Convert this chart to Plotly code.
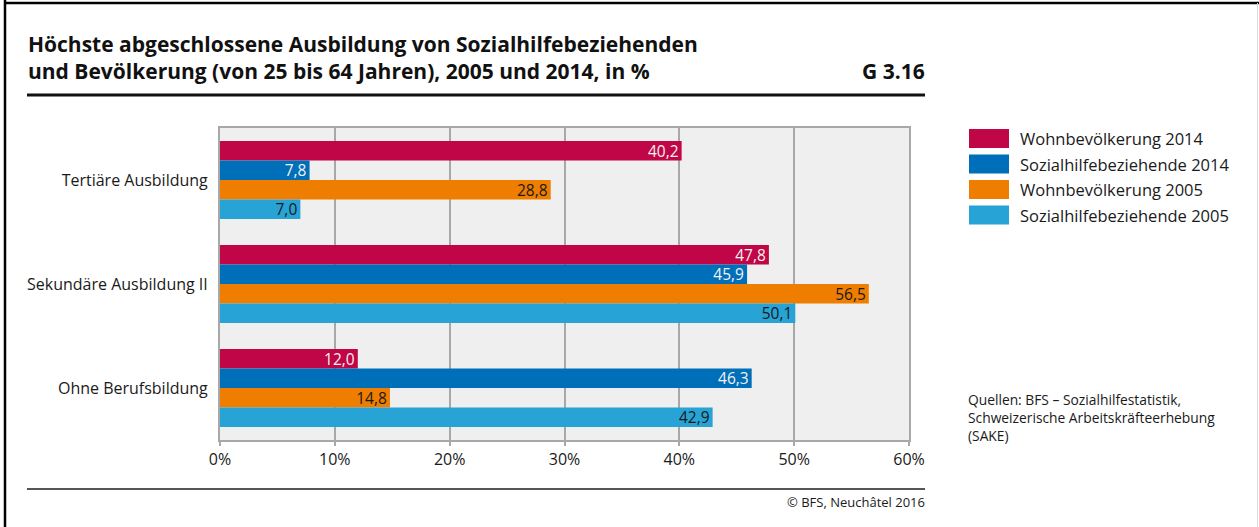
import plotly.graph_objects as go

categories = ["Tertiäre Ausbildung", "Sekundäre Ausbildung II", "Ohne Berufsbildung"]
series_names = ["Wohnbevölkerung 2014", "Sozialhilfebeziehende 2014",
                "Wohnbevölkerung 2005", "Sozialhilfebeziehende 2005"]
wohn_2014 = [40.2, 47.8, 12.0]
sozial_2014 = [7.8, 45.9, 46.3]
wohn_2005 = [28.8, 56.5, 14.8]
sozial_2005 = [7.0, 50.1, 42.9]
series_values = [wohn_2014, sozial_2014, wohn_2005, sozial_2005]
colors = ["#c00646", "#006fb9", "#ef7d00", "#27a3d6"]
text_colors = ["#f2f2f2", "#f2f2f2", "#1a1a1a", "#1a1a1a"]
tick_vals = [0, 10, 20, 30, 40, 50, 60]
tick_labels = ["0%", "10%", "20%", "30%", "40%", "50%", "60%"]

FONT = "Open Sans"
W, H = 1259, 527
L, R, T, B = 220, 909, 128, 440  # plot area in px


def px(x):
    return (x - L) / (R - L)


def py(y):
    return (B - y) / (B - T)


fig = go.Figure()
for name, vals, col, tcol in zip(series_names, series_values, colors, text_colors):
    fig.add_trace(go.Bar(
        y=categories, x=vals, name=name, orientation="h",
        marker=dict(color=col, line=dict(width=0)),
        text=[f"{v:.1f}".replace(".", ",") for v in vals],
        textposition="inside", insidetextanchor="end", textangle=0,
        constraintext="none",
        textfont=dict(family=FONT, size=15.5, color=tcol),
        showlegend=False,
    ))

shapes = []
annotations = []

# page borders
shapes.append(dict(type="line", xref="paper", yref="paper", x0=px(5), x1=px(5), y0=py(0), y1=py(527),
                   line=dict(color="black", width=2.5)))
shapes.append(dict(type="line", xref="paper", yref="paper", x0=px(4), x1=px(1259), y0=py(3), y1=py(3),
                   line=dict(color="black", width=2.5)))
shapes.append(dict(type="line", xref="paper", yref="paper", x0=px(1257.5), x1=px(1257.5), y0=py(3), y1=py(527),
                   line=dict(color="#d9d9d9", width=1)))
# rule under title
shapes.append(dict(type="line", xref="paper", yref="paper", x0=px(27), x1=px(925), y0=py(95), y1=py(95),
                   line=dict(color="#111111", width=3)))
# bottom rule
shapes.append(dict(type="line", xref="paper", yref="paper", x0=px(27), x1=px(925), y0=py(489), y1=py(489),
                   line=dict(color="#555555", width=2)))

# title
TITLE_SIZE = 21
annotations.append(dict(xref="paper", yref="paper", x=px(26), y=py(44), xanchor="left", yanchor="middle",
                        text="<b>Höchste abgeschlossene Ausbildung von Sozialhilfebeziehenden</b>",
                        showarrow=False, font=dict(family=FONT, size=TITLE_SIZE, color="#111111")))
annotations.append(dict(xref="paper", yref="paper", x=px(26), y=py(71), xanchor="left", yanchor="middle",
                        text="<b>und Bevölkerung (von 25 bis 64 Jahren), 2005 und 2014, in %</b>",
                        showarrow=False, font=dict(family=FONT, size=TITLE_SIZE, color="#111111")))
annotations.append(dict(xref="paper", yref="paper", x=px(927), y=py(71), xanchor="right", yanchor="middle",
                        text="<b>G 3.16</b>",
                        showarrow=False, font=dict(family=FONT, size=TITLE_SIZE, color="#111111")))
annotations.append(dict(xref="paper", yref="paper", x=px(927), y=py(502), xanchor="right", yanchor="middle",
                        text="© BFS, Neuchâtel 2016",
                        showarrow=False, font=dict(family=FONT, size=13, color="#1a1a1a")))

# custom legend
for i, (name, col) in enumerate(zip(series_names, colors)):
    yc = 138.5 + i * 25.5
    shapes.append(dict(type="rect", xref="paper", yref="paper", x0=px(969), x1=px(1009),
                       y0=py(yc - 9.5), y1=py(yc + 9.5), fillcolor=col, line=dict(width=0)))
    annotations.append(dict(xref="paper", yref="paper", x=px(1018), y=py(yc), xanchor="left", yanchor="middle",
                            text=name, showarrow=False, font=dict(family=FONT, size=16.5, color="#1a1a1a")))

# sources
annotations.append(dict(xref="paper", yref="paper", x=px(966), y=py(417), xanchor="left", yanchor="middle",
                        align="left",
                        text="Quellen: BFS – Sozialhilfestatistik,<br>Schweizerische Arbeitskräfteerhebung<br>(SAKE)",
                        showarrow=False, font=dict(family=FONT, size=13.8, color="#1a1a1a")))

fig.update_layout(
    width=W, height=H,
    margin=dict(l=L, r=W - R, t=T, b=H - B, pad=0),
    paper_bgcolor="white", plot_bgcolor="#efefef",
    barmode="group", bargap=0.25, bargroupgap=0,
    font=dict(family=FONT, size=16, color="#1a1a1a"),
    shapes=shapes, annotations=annotations,
    showlegend=False,
)
fig.update_xaxes(range=[0, 60], tickvals=tick_vals, ticktext=tick_labels,
                 showgrid=True, gridcolor="#a8a8a8", gridwidth=1.5,
                 showline=True, linecolor="#a8a8a8", linewidth=2, mirror=True,
                 ticks="outside", ticklen=4, tickcolor="#a8a8a8", tickwidth=1.5,
                 zeroline=False, tickfont=dict(family=FONT, size=16, color="#1a1a1a"))
fig.update_yaxes(autorange="reversed", showline=True, linecolor="#a8a8a8", linewidth=2, mirror=True,
                 ticks="", ticklabelstandoff=7, showgrid=False,
                 tickfont=dict(family=FONT, size=16, color="#1a1a1a"))

fig.write_html("out.html", config={"displayModeBar": False},
               post_script="document.body.style.margin='0';")
